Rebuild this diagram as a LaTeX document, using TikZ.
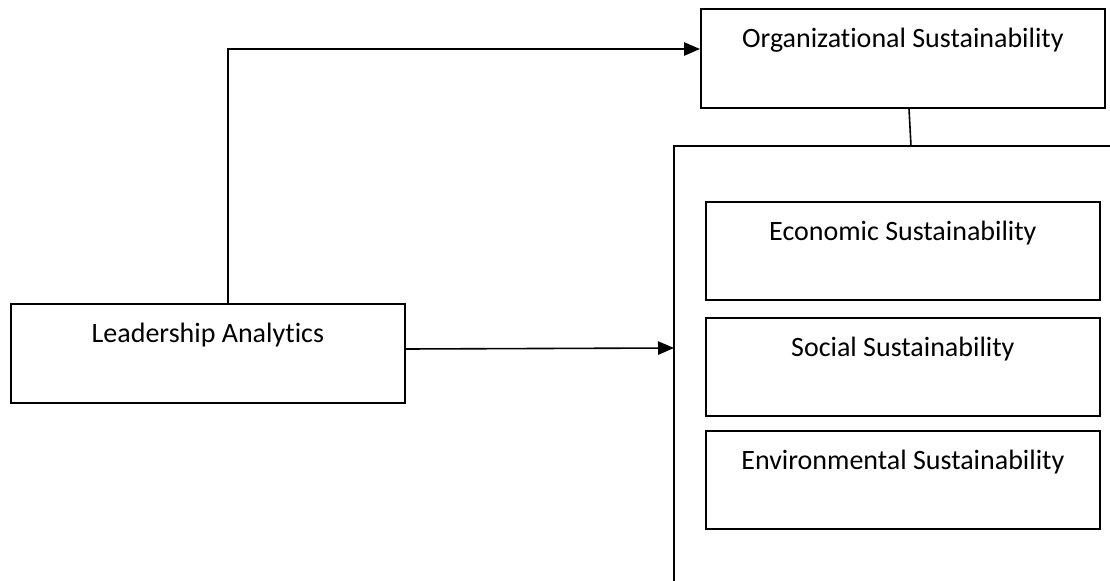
\documentclass[tikz,border=0pt]{standalone}
\usepackage{fontspec}
\setmainfont{Carlito}[Ligatures=NoCommon]
\usetikzlibrary{arrows.meta}
\tikzset{
  box/.style={draw=black, line width=1.3pt, rectangle, inner sep=0pt, anchor=north west,
    font=\fontsize{21}{25}\selectfont, text height=29pt, text depth=45.25pt},
  conn/.style={draw=black, line width=1.2pt},
  arr/.style={conn, -{Triangle[length=12pt,width=10pt]}}
}
\begin{document}
\begin{tikzpicture}[x=0.75pt, y=-0.75pt]
\useasboundingbox (0,0) rectangle (1110,581);
% boxes
\node[box, minimum width=303pt] (org) at (700,8) {Organizational Sustainability};
\node[box, minimum width=295.5pt] (lead) at (10,303) {Leadership Analytics};
\node[box, minimum width=295.5pt, text depth=44.5pt] (eco) at (705,201) {Economic Sustainability};
\node[box, minimum width=295.5pt, text depth=44.5pt] (soc) at (705,317) {Social Sustainability};
\node[box, minimum width=295.5pt, text depth=44.5pt] (env) at (705,430) {Environmental Sustainability};
% big container (open to the right and bottom)
\coordinate (bigTR) at (1112,146);
\coordinate (bigTL) at (674,146);
\coordinate (bigBL) at (674,583);
\draw[conn, line width=1.3pt] (bigTR) -- (bigTL) -- (bigBL);
% connector org -> container
\coordinate (orgJoin) at (911,146);
\draw[conn] (org.south -| 909,0) -- (orgJoin);
% lead -> org
\coordinate (leadUp) at (228,49);
\draw[arr] (lead.north -| leadUp) -- (leadUp) -- (org.west |- leadUp);
% lead -> container
\coordinate (contIn) at (674,348);
\draw[arr] (lead.east |- 0,349) -- (contIn);
\end{tikzpicture}
\end{document}
